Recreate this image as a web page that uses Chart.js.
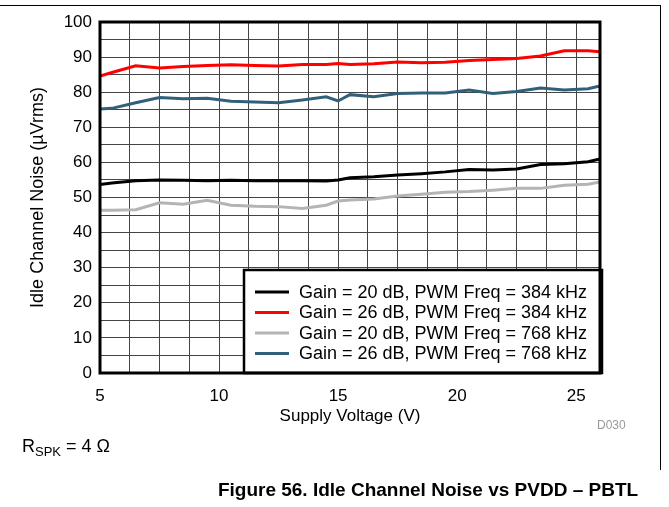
<!DOCTYPE html>
<html>
<head>
<meta charset="utf-8">
<script src="https://cdn.jsdelivr.net/npm/chart.js@4/dist/chart.umd.min.js"></script>
<style>
  body { margin: 0; background: #fff; font-family: "Liberation Sans", Arial, sans-serif; }
  #wrap { position: relative; width: 669px; height: 507px; }
  #noiseChart { position: absolute; left: 0; top: 0; }
  .frameTop { position: absolute; left: 0; top: 5px; width: 661px; height: 0; border-top: 1px solid #000; }
  .frameRight { position: absolute; left: 660px; top: 5px; width: 0; height: 465px; border-left: 1px solid #000; }
  .code { position: absolute; left: 597px; top: 418px; font-size: 12px; color: #999; }
  .rspk { position: absolute; left: 22px; top: 436px; font-size: 18px; color: #000; }
  .rspk sub { font-size: 13px; vertical-align: -4px; }
  .caption { position: absolute; left: 0; width: 856px; top: 479px; text-align: center; font-size: 19px; font-weight: bold; }
</style>
</head>
<body>
<div id="wrap">
  <canvas id="noiseChart" width="669" height="507"></canvas>
  <div class="frameTop"></div>
  <div class="frameRight"></div>
  <div class="code">D030</div>
  <div class="rspk">R<sub>SPK</sub> = 4 Ω</div>
  <div class="caption">Figure 56. Idle Channel Noise vs PVDD – PBTL</div>
</div>
<script>
// supply voltage (V) where the curves were read
const voltage = [5, 5.5, 6.5, 7.5, 8.5, 9.5, 10.5, 11.5, 12.5, 13.5, 14.5, 15, 15.5, 16.5, 17.5, 18.5, 19.5, 20.5, 21.5, 22.5, 23.5, 24.5, 25.5, 26];

// idle channel noise (uVrms)
const gain20_384 = [53.7, 54.1, 54.8, 55.0, 54.9, 54.8, 54.9, 54.8, 54.8, 54.8, 54.7, 55.0, 55.6, 55.9, 56.4, 56.8, 57.3, 58.0, 57.8, 58.1, 59.4, 59.6, 60.2, 61.0];
const gain26_384 = [84.6, 85.6, 87.5, 86.9, 87.3, 87.6, 87.8, 87.6, 87.5, 87.9, 87.9, 88.2, 87.9, 88.1, 88.6, 88.4, 88.5, 89.0, 89.3, 89.6, 90.3, 91.8, 91.8, 91.5];
const gain20_768 = [46.4, 46.4, 46.5, 48.5, 48.1, 49.2, 47.8, 47.5, 47.4, 46.9, 47.8, 49.0, 49.3, 49.6, 50.4, 50.9, 51.5, 51.7, 52.1, 52.6, 52.6, 53.5, 53.8, 54.4];
const gain26_768 = [75.2, 75.4, 77.0, 78.5, 78.1, 78.3, 77.4, 77.2, 77.0, 77.8, 78.7, 77.5, 79.3, 78.7, 79.6, 79.8, 79.8, 80.6, 79.6, 80.2, 81.2, 80.6, 81.0, 81.8];

const seriesLabels = [
    "Gain = 20 dB, PWM Freq = 384 kHz",
    "Gain = 26 dB, PWM Freq = 384 kHz",
    "Gain = 20 dB, PWM Freq = 768 kHz",
    "Gain = 26 dB, PWM Freq = 768 kHz"
];
const seriesColors = ["#000000", "#ff0000", "#b4b4b4", "#30607a"];
const seriesValues = [gain20_384, gain26_384, gain20_768, gain26_768];

const xTicks = [5, 10, 15, 20, 25];
const yTicks = [0, 10, 20, 30, 40, 50, 60, 70, 80, 90, 100];

// vertical grid every 1.25 V, horizontal every 5 uV
const xGrid = [];
for (let v = 5; v <= 25; v += 1.25) xGrid.push(v);
xGrid.push(26);

function toPoints(values) {
    return values.map((v, i) => ({ x: voltage[i], y: v }));
}

const datasets = seriesValues.map((vals, i) => ({
    label: seriesLabels[i],
    data: toPoints(vals),
    borderColor: seriesColors[i],
    backgroundColor: seriesColors[i],
    borderWidth: 3,
    pointRadius: 0,
    tension: 0,
    fill: false
}));

// legend box sitting inside the plot, bottom right
const boxLegend = {
    id: "boxLegend",
    afterDatasetsDraw(chart) {
        const ctx = chart.ctx;
        const area = chart.chartArea;
        const left = area.left + 144, top = area.bottom - 103;
        const right = area.right + 2, bottom = area.bottom;
        ctx.save();
        ctx.fillStyle = "#fff";
        ctx.fillRect(left, top, right - left, bottom - top);
        ctx.strokeStyle = "#000";
        ctx.lineWidth = 2.5;
        ctx.strokeRect(left, top, right - left, bottom - top);
        ctx.font = "18px 'Liberation Sans', Arial, sans-serif";
        ctx.textBaseline = "middle";
        ctx.fillStyle = "#000";
        chart.data.datasets.forEach((ds, i) => {
            const y = top + 22 + i * 20.5;
            ctx.strokeStyle = ds.borderColor;
            ctx.lineWidth = 3;
            ctx.beginPath();
            ctx.moveTo(left + 11, y);
            ctx.lineTo(left + 45, y);
            ctx.stroke();
            ctx.fillText(ds.label, left + 55, y + 1);
        });
        ctx.restore();
    },
    afterDraw(chart) {
        const ctx = chart.ctx;
        const a = chart.chartArea;
        ctx.save();
        ctx.strokeStyle = "#000";
        ctx.lineWidth = 3;
        ctx.strokeRect(a.left, a.top, a.right - a.left, a.bottom - a.top);
        ctx.restore();
    }
};

new Chart("noiseChart", {
    type: "line",
    data: { datasets: datasets },
    options: {
        responsive: false,
        animation: false,
        layout: { padding: { left: 0, top: 22, right: 69, bottom: 74 } },
        plugins: {
            legend: { display: false },
            tooltip: { enabled: false }
        },
        scales: {
            x: {
                type: "linear",
                min: 5,
                max: 26,
                afterFit: function(scale) { scale.height = 60; },
                afterBuildTicks: function(scale) {
                    scale.ticks = xGrid.map(v => ({ value: v }));
                },
                ticks: {
                    autoSkip: false,
                    maxRotation: 0,
                    padding: 13,
                    color: "#000",
                    font: { size: 17, family: "'Liberation Sans', Arial, sans-serif" },
                    callback: v => xTicks.includes(v) ? v : ""
                },
                grid: { color: "#444", lineWidth: 1, drawTicks: false },
                border: { display: false },
                title: {
                    display: true,
                    text: "Supply Voltage (V)",
                    color: "#000",
                    font: { size: 17, family: "'Liberation Sans', Arial, sans-serif" },
                    padding: { top: 0, bottom: 6 }
                }
            },
            y: {
                min: 0,
                max: 100,
                afterFit: function(scale) { scale.width = 100; },
                ticks: {
                    stepSize: 5,
                    autoSkip: false,
                    padding: 8,
                    color: "#000",
                    font: { size: 17, family: "'Liberation Sans', Arial, sans-serif" },
                    callback: v => yTicks.includes(v) ? v : ""
                },
                grid: { color: "#444", lineWidth: 1, drawTicks: false },
                border: { display: false },
                title: {
                    display: true,
                    text: "Idle Channel Noise (µVrms)",
                    color: "#000",
                    font: { size: 18, family: "'Liberation Sans', Arial, sans-serif" },
                    padding: { top: 27, bottom: 0 }
                }
            }
        }
    },
    plugins: [boxLegend]
});
</script>
</body>
</html>
